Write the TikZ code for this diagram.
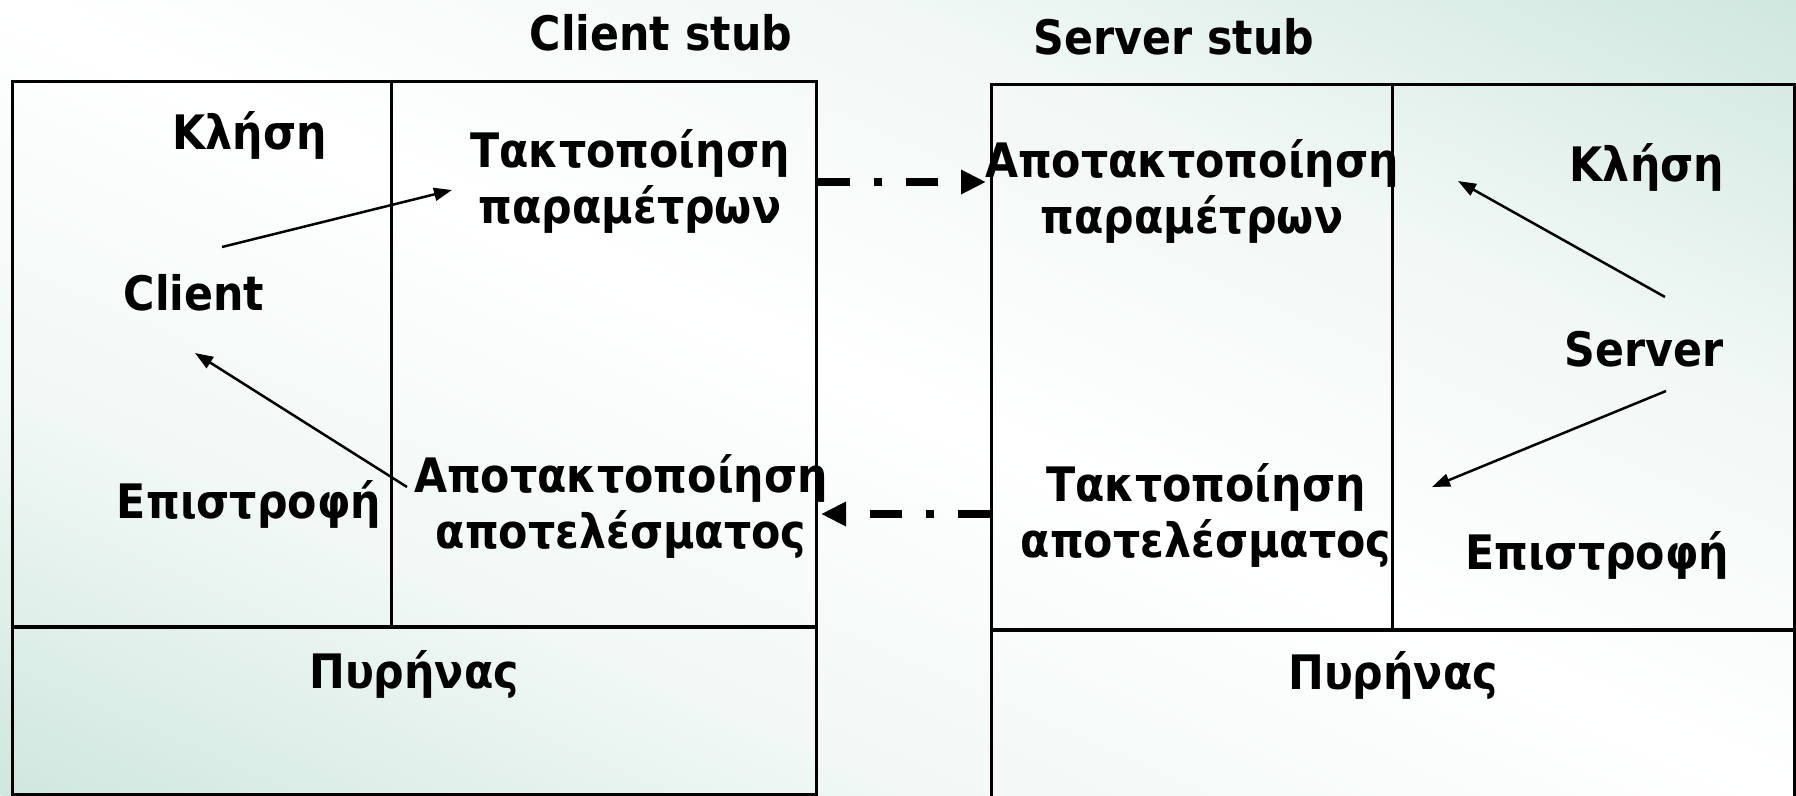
\documentclass[tikz,border=0pt]{standalone}
\usepackage{fontspec}
\newfontfamily\lblfont{DejaVu Sans Condensed Bold}
\usetikzlibrary{arrows.meta}
\definecolor{bggreen}{RGB}{207,231,223}
\colorlet{bgpale}{bggreen!30!white}
% green in two opposite corners, white along the other diagonal
\pgfdeclareverticalshading{bgshade}{100bp}{color(0bp)=(bggreen); color(25bp)=(bggreen);
  color(37.5bp)=(bgpale); color(50bp)=(white); color(62.5bp)=(bgpale);
  color(75bp)=(bggreen); color(100bp)=(bggreen)}
\begin{document}
\begin{tikzpicture}[x=1pt,y=-1pt,
  lbl/.style={font=\lblfont\fontsize{47.5}{56}\selectfont, inner sep=0pt, align=center, anchor=base},
  frame/.style={draw=black, line width=3pt},
  sep/.style={draw=black, line width=4pt},
  callarrow/.style={line width=2.5pt, -{Triangle[length=18pt,width=13pt]}},
  msgarrow/.style={line width=8pt, dash pattern=on 32pt off 24pt on 8pt off 24pt,
    -{Triangle[length=25pt,width=23pt]}}]
% page and background
\useasboundingbox (0,0) rectangle (1796,795);
\begin{scope}[x=1pt, y=1pt, transform canvas={cm={8.98,-3.975,8.98,3.975,(0pt,-795pt)}}]
  \shade[shading=bgshade] (-100,0) rectangle (100,200);
\end{scope}

% client side: application part, stub part, kernel
\node[frame, minimum width=804pt, minimum height=713pt, anchor=north west, inner sep=0pt] (lbox) at (11,80) {};
\draw[frame] (391,80) -- (391,627);
\draw[sep] (11,627) -- (815,627);

% server side
\node[frame, minimum width=803pt, minimum height=720pt, anchor=north west, inner sep=0pt] (rbox) at (990,83) {};
\draw[frame] (1392,83) -- (1392,630);
\draw[sep] (990,630) -- (1793,630);

% labels (two-line labels are placed by the baseline of their last line)
\node[lbl] (cstub) at (661,50) {Client stub};
\node[lbl] (sstub) at (1174,54) {Server stub};

\node[lbl] (ccall) at (250,149) {Κλήση};
\node[lbl] (client) at (194,310) {Client};
\node[lbl] (cret) at (249,518) {Επιστροφή};
\node[lbl] (ckern) at (414,688) {Πυρήνας};
\node[lbl] (cmarsh) at (630,223) {Τακτοποίηση\\παραμέτρων};
\node[lbl] (cunmarsh) at (621,548) {Αποτακτοποίηση\\αποτελέσματος};

\node[lbl] (sunmarsh) at (1192,233) {Αποτακτοποίηση\\παραμέτρων};
\node[lbl] (scall) at (1647,181) {Κλήση};
\node[lbl] (server) at (1644,366) {Server};
\node[lbl] (smarsh) at (1206,557) {Τακτοποίηση\\αποτελέσματος};
\node[lbl] (sret) at (1597,569) {Επιστροφή};
\node[lbl] (skern) at (1393,689) {Πυρήνας};

% local call / return arrows
\coordinate (c1s) at (222,247);
\coordinate (c1e) at (452,190);
\coordinate (c2s) at (407,487);
\coordinate (c2e) at (195,353);
\coordinate (s1s) at (1665,297);
\coordinate (s1e) at (1458,181);
\coordinate (s2s) at (1666,391);
\coordinate (s2e) at (1432,487);
\draw[callarrow] (c1s) -- (c1e);
\draw[callarrow] (c2s) -- (c2e);
\draw[callarrow] (s1s) -- (s1e);
\draw[callarrow] (s2s) -- (s2e);

% messages between the stubs
\draw[msgarrow, shorten >=4pt] (lbox.east |- 0,182) -- (rbox.west |- 0,182);
\draw[msgarrow, shorten >=3pt] (rbox.west |- 0,514) -- (lbox.east |- 0,514);
\end{tikzpicture}
\end{document}
